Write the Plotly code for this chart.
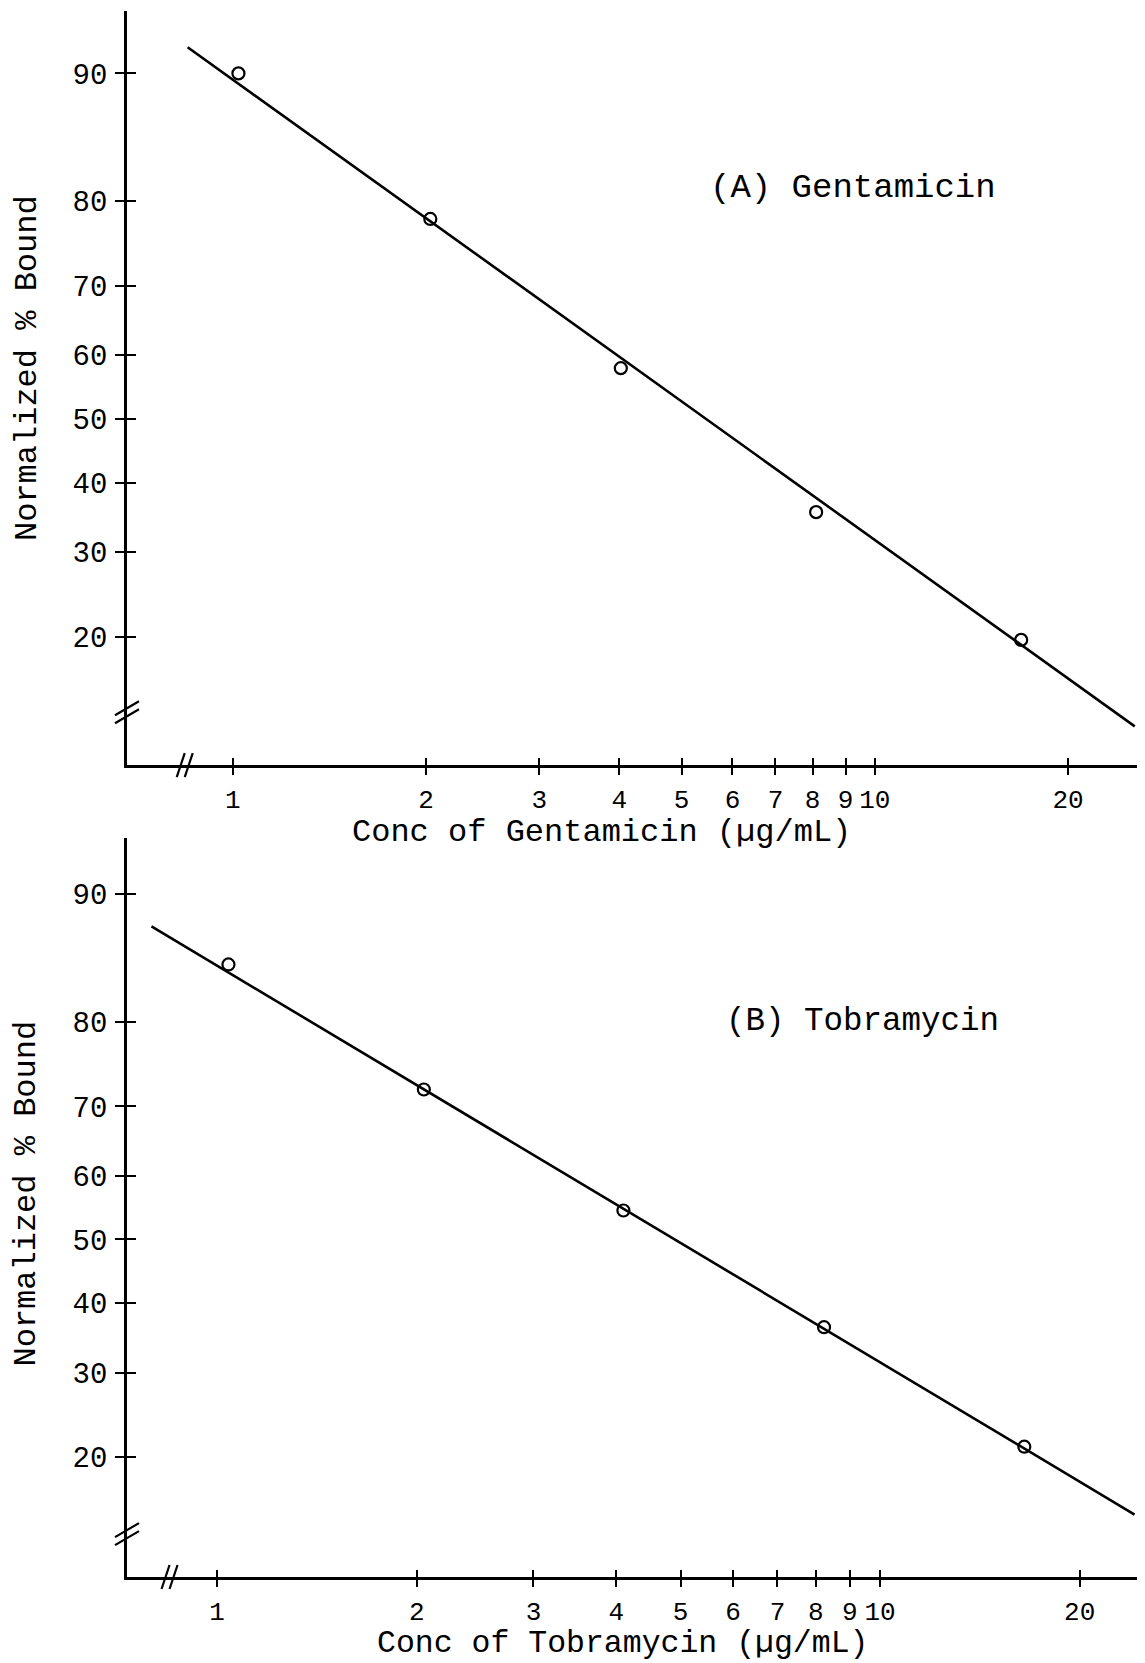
import numpy as np
import plotly.graph_objects as go

# ---------------- data ----------------
gent_conc = [1.02, 2.03, 4.02, 8.1, 16.9]
gent_bound = [90.0, 78.1, 58.0, 35.6, 19.7]
gent_fit_conc = [0.85, 25.4]
gent_fit_bound = [91.4, 12.4]

tobra_conc = [1.04, 2.05, 4.1, 8.23, 16.5]
tobra_bound = [85.2, 72.2, 54.6, 36.4, 21.1]
tobra_fit_conc = [0.796, 24.2]
tobra_fit_bound = [88.0, 14.8]

x_ticks = [1, 2, 3, 4, 5, 6, 7, 8, 9, 10, 20]
y_ticks = [20, 30, 40, 50, 60, 70, 80, 90]

x_title_top = "Conc of Gentamicin (\u00b5g/mL)"
x_title_bot = "Conc of Tobramycin (\u00b5g/mL)"
y_title = "Normalized % Bound"
label_top = "(A) Gentamicin"
label_bot = "(B) Tobramycin"


def logit(p):
    p = np.asarray(p, dtype=float) / 100.0
    return np.log(p / (1 - p))


FONT = "Courier New, Liberation Mono, monospace"
INK = "black"

# the page body adds an 8 px margin, so the figure is sized/offset for it
W, H = 1137, 1655
ML, MR, MT, MB = 119, 5, 3, 86
PW = W - ML - MR

fig = go.Figure()

panels = [
    dict(conc=gent_conc, bound=gent_bound, fc=gent_fit_conc, fb=gent_fit_bound,
         xa="x", ya="y"),
    dict(conc=tobra_conc, bound=tobra_bound, fc=tobra_fit_conc, fb=tobra_fit_bound,
         xa="x2", ya="y2"),
]
for p in panels:
    fig.add_trace(go.Scatter(x=p["fc"], y=logit(p["fb"]), mode="lines",
                             line=dict(color=INK, width=2.6),
                             xaxis=p["xa"], yaxis=p["ya"], showlegend=False,
                             hoverinfo="skip"))
    fig.add_trace(go.Scatter(x=p["conc"], y=logit(p["bound"]), mode="markers",
                             marker=dict(symbol="circle-open", size=12,
                                         color=INK, line=dict(width=2.2)),
                             xaxis=p["xa"], yaxis=p["ya"], showlegend=False))

top_dom = [0.5185, 1.0]
bot_dom = [0.0, 0.4719]

xt_font = dict(family=FONT, size=26, color=INK)
yt_font = dict(family=FONT, size=29, color=INK)


def xaxis(rng, anchor, ticks="outside", labels=True, **kw):
    d = dict(type="log", range=rng, tickvals=x_ticks,
             ticktext=[str(v) for v in x_ticks],
             ticks=ticks, ticklen=7, tickwidth=1.6, tickcolor=INK,
             showline=labels, linecolor=INK, linewidth=2.8,
             showgrid=False, zeroline=False, showticklabels=labels,
             tickfont=xt_font, anchor=anchor, ticklabelstandoff=2)
    d.update(kw)
    return d


def yaxis(rng, dom, anchor, ticks="outside", labels=True, **kw):
    d = dict(range=rng, domain=dom, tickvals=list(logit(y_ticks)),
             ticktext=[str(v) for v in y_ticks],
             ticks=ticks, ticklen=9, tickwidth=2.2, tickcolor=INK,
             showline=labels, linecolor=INK, linewidth=2.8,
             showgrid=False, zeroline=False, showticklabels=labels,
             tickfont=yt_font, anchor=anchor, ticklabelstandoff=2)
    d.update(kw)
    return d


fig.update_layout(
    width=W, height=H,
    margin=dict(l=ML, r=MR, t=MT, b=MB),
    paper_bgcolor="white", plot_bgcolor="white",
    xaxis=xaxis([-0.165, 1.413], "y"),
    yaxis=yaxis([-2.201, 2.594], top_dom, "x"),
    xaxis2=xaxis([-0.136, 1.392], "y2"),
    yaxis2=yaxis([-2.148, 2.555], bot_dom, "x2"),
    # overlay axes that draw the inner half of the crossing tick marks
    xaxis3=xaxis([-0.165, 1.413], "y", ticks="inside", labels=False,
                 overlaying="x", matches="x"),
    xaxis4=xaxis([-0.136, 1.392], "y2", ticks="inside", labels=False,
                 overlaying="x2", matches="x2"),
    yaxis3=yaxis([-2.201, 2.594], top_dom, "x", ticks="inside", labels=False,
                 overlaying="y", matches="y"),
    yaxis4=yaxis([-2.148, 2.555], bot_dom, "x2", ticks="inside", labels=False,
                 overlaying="y2", matches="y2"),
)

# invisible traces so overlay axes render
fig.add_trace(go.Scatter(x=[1], y=[0], xaxis="x3", yaxis="y3", mode="markers",
                         marker=dict(opacity=0), showlegend=False, hoverinfo="skip"))
fig.add_trace(go.Scatter(x=[1], y=[0], xaxis="x4", yaxis="y4", mode="markers",
                         marker=dict(opacity=0), showlegend=False, hoverinfo="skip"))

title_font = dict(family=FONT, size=32, color=INK)
ann = [
    dict(text=x_title_top, xref="paper", yref="y domain", x=(601 - 127) / PW, y=0,
         yshift=-67, xanchor="center", yanchor="middle", font=title_font),
    dict(text=x_title_bot, xref="paper", yref="y2 domain", x=(622 - 127) / PW, y=0,
         yshift=-66, xanchor="center", yanchor="middle",
         font=dict(family=FONT, size=31.5, color=INK)),
    dict(text=y_title, xref="paper", yref="y domain", x=0, y=0.5,
         xshift=-100, yshift=20, textangle=-90, xanchor="center",
         yanchor="middle", font=title_font),
    dict(text=y_title, xref="paper", yref="y2 domain", x=0, y=0.5,
         xshift=-100, yshift=14, textangle=-90, xanchor="center",
         yanchor="middle", font=title_font),
    dict(text=label_top, xref="paper", yref="y domain", x=(708 - 127) / PW,
         y=(765 - 188) / 754, xanchor="left", yanchor="middle",
         font=dict(family=FONT, size=34, color=INK)),
    dict(text=label_bot, xref="paper", yref="y2 domain", x=(724 - 127) / PW,
         y=(1577 - 1021) / 739, xanchor="left", yanchor="middle",
         font=dict(family=FONT, size=32.5, color=INK)),
]
for a in ann:
    a.update(showarrow=False)
fig.update_layout(annotations=ann)

# axis-break marks
shapes = []
for xd, yd, xbr, ybr in [("x domain", "y domain", 0.057, 0.070),
                          ("x2 domain", "y2 domain", 0.042, 0.058)]:
    # on the y-axis: two parallel slanted strokes
    for dy in (-4, 4):
        shapes.append(dict(type="line", xref=xd, yref=yd, xsizemode="pixel",
                           ysizemode="pixel", xanchor=0, yanchor=ybr,
                           x0=-12, x1=12, y0=-7 + dy, y1=7 + dy,
                           line=dict(color=INK, width=2.2)))
    # on the x-axis: "//"
    for dx in (-4, 4):
        shapes.append(dict(type="line", xref=xd, yref=yd, xsizemode="pixel",
                           ysizemode="pixel", xanchor=xbr, yanchor=0,
                           x0=-4 + dx, x1=4 + dx, y0=-12, y1=12,
                           line=dict(color=INK, width=2.2)))
fig.update_layout(shapes=shapes)

fig.write_html("out.html")
